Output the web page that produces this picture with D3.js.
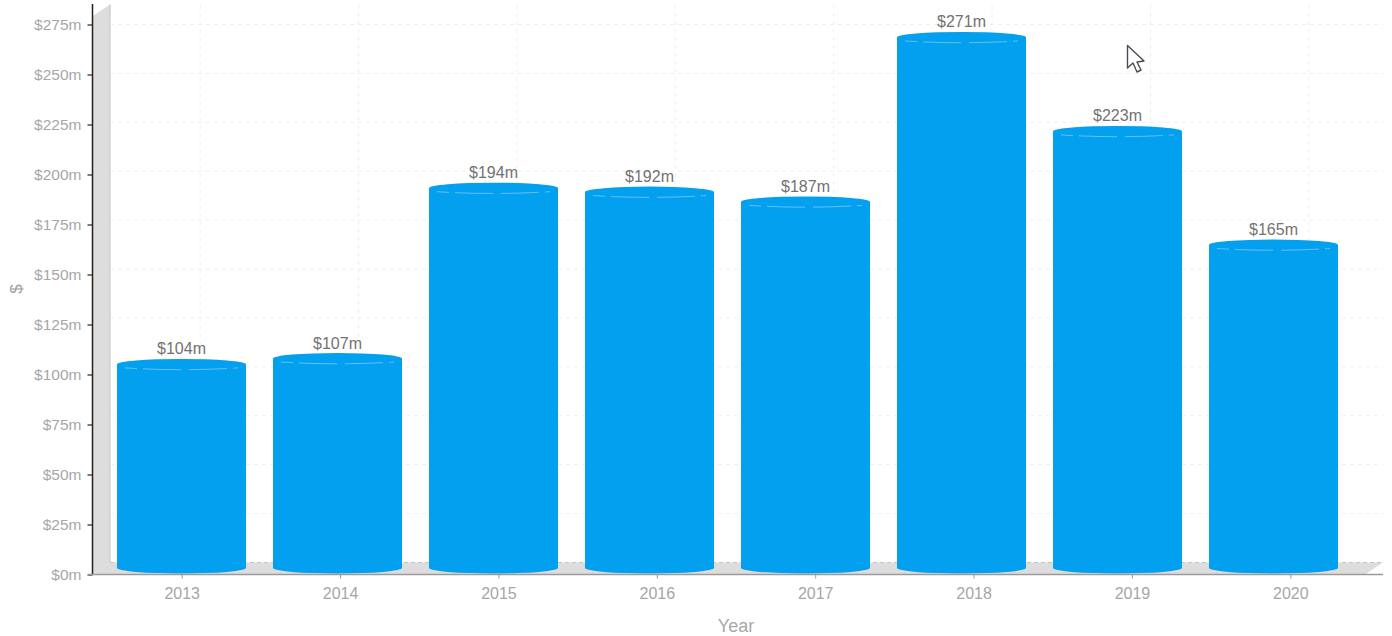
<!DOCTYPE html>
<html>
<head>
<meta charset="utf-8">
<script src="https://cdn.jsdelivr.net/npm/d3@7/dist/d3.min.js"></script>
<style>
  html, body { margin: 0; padding: 0; background: #fff; }
  svg { display: block; }
  text { font-family: "Liberation Sans", Arial, sans-serif; }
</style>
</head>
<body>
<svg id="chart" width="1392" height="636"></svg>
<script>
const years = ["2013", "2014", "2015", "2016", "2017", "2018", "2019", "2020"];
const revenue = [104, 107, 194, 192, 187, 271, 223, 165];
const valueTicks = [0, 25, 50, 75, 100, 125, 150, 175, 200, 225, 250, 275];

const svg = d3.select("#chart");
const money = v => `$${v}m`;

// Three parallel value scales: front axis, bar mid-plane, back wall.
const yFront = d3.scaleLinear().domain([0, 275]).range([574.5, 24.5]);
const yBar = d3.scaleLinear().domain([0, 275]).range([568, 29.6]);
const yBack = d3.scaleLinear().domain([0, 275]).range([562.5, 24.5]);

// Category positions: axis labels on the front edge, bars slightly inset.
const xFront = d3.scaleBand().domain(years).range([103, 1370]).padding(0);
const xBar = d3.scaleBand().domain(years).range([103.5, 1351.5]).paddingInner(27 / 156).paddingOuter(13.5 / 156);
const depthX = 18, depthY = 12;

// Back wall and floor of the 3D box
const box = svg.append("g");
box.append("path")
  .attr("d", d3.line()([[93, 16], [110, 4.5], [110, 562.5], [93, 574.5]]))
  .attr("fill", "#dddddd");
box.append("path")
  .attr("d", d3.line()([[93, 574.5], [110, 562.5], [1383, 562.5], [1365, 574.5]]))
  .attr("fill", "#dddddd");
box.append("line")
  .attr("x1", 110).attr("x2", 110).attr("y1", 4.5).attr("y2", 562.5)
  .attr("stroke", "#c9c9c9").attr("stroke-width", 1.2);
box.append("line")
  .attr("x1", 110).attr("x2", 1383).attr("y1", 562.5).attr("y2", 562.5)
  .attr("stroke", "#c4c4c4").attr("stroke-dasharray", "4 3");

// Dashed grid on the back plane
const grid = svg.append("g")
  .attr("fill", "none").attr("stroke", "#efefef").attr("stroke-width", 1).attr("stroke-dasharray", "4 4");
grid.selectAll("line.h").data(valueTicks.slice(1)).join("line")
  .attr("class", "h")
  .attr("x1", 110).attr("x2", 1383)
  .attr("y1", d => yBack(d)).attr("y2", d => yBack(d));
grid.selectAll("line.v").data(years).join("line")
  .attr("class", "v")
  .attr("x1", d => xFront(d) + xFront.bandwidth() / 2 + depthX)
  .attr("x2", d => xFront(d) + xFront.bandwidth() / 2 + depthX)
  .attr("y1", 5).attr("y2", 562);

// Cylinders: body with elliptical base and top cap
const ry = 5.5;
const bars = svg.append("g").selectAll("g").data(years.map((y, i) => ({ y, v: revenue[i] }))).join("g");
bars.append("path")
  .attr("fill", "#03a0ef")
  .attr("d", d => {
    const x0 = xBar(d.y), w = xBar.bandwidth(), rx = w / 2, top = yBar(d.v), base = yBar(0);
    return `M${x0},${top}A${rx},${ry} 0 0 1 ${x0 + w},${top}L${x0 + w},${base}A${rx},${ry} 0 0 1 ${x0},${base}Z`;
  });
// Faint dashed rim along the front of the top cap
bars.append("path")
  .attr("fill", "none").attr("stroke", "#62c0f4").attr("stroke-width", 1)
  .attr("stroke-dasharray", "12 6 38 8 38 6 12")
  .attr("d", d => {
    const x0 = xBar(d.y), w = xBar.bandwidth(), top = yBar(d.v) + ry - 0.2;
    return `M${x0 + 8},${top - 1.8}Q${x0 + w / 2},${top + 1.8} ${x0 + w - 8},${top - 1.8}`;
  });
bars.append("text")
  .attr("x", d => xBar(d.y) + xBar.bandwidth() / 2)
  .attr("y", d => yBar(d.v) - 10)
  .attr("text-anchor", "middle")
  .attr("font-size", 16)
  .attr("fill", "#727272")
  .text(d => money(d.v));

// Value axis
const yAxis = svg.append("g").attr("transform", "translate(92.5,0)")
  .call(d3.axisLeft(yFront).tickValues(valueTicks).tickFormat(money).tickSize(5).tickSizeOuter(0));
yAxis.attr("font-family", null);
yAxis.select(".domain").remove();
yAxis.selectAll(".tick line").attr("stroke", "#222").attr("stroke-width", 1.2);
yAxis.selectAll(".tick text").attr("font-size", 15.5).attr("fill", "#a6a6a6").attr("x", -11);
svg.append("line")
  .attr("x1", 92.5).attr("x2", 92.5).attr("y1", 4).attr("y2", 575)
  .attr("stroke", "#222").attr("stroke-width", 1.5);

// Category axis
const xAxis = svg.append("g").attr("transform", "translate(0,574.5)")
  .call(d3.axisBottom(xFront).tickSize(4).tickSizeOuter(0));
xAxis.attr("font-family", null);
xAxis.select(".domain").remove();
xAxis.selectAll(".tick line").attr("stroke", "#999");
xAxis.selectAll(".tick text").attr("font-size", 16).attr("fill", "#a6a6a6").attr("y", 13);
svg.append("line")
  .attr("x1", 88).attr("x2", 1383).attr("y1", 574.5).attr("y2", 574.5)
  .attr("stroke", "#9a9a9a").attr("stroke-width", 1.5);

// Axis titles
svg.append("text").attr("x", 736).attr("y", 631.5).attr("text-anchor", "middle")
  .attr("font-size", 18).attr("fill", "#a8a8a8").text("Year");
svg.append("text").attr("transform", "translate(22,289) rotate(-90)").attr("text-anchor", "middle")
  .attr("font-size", 17).attr("fill", "#a0a0a0").text("$");

// Pointer overlay
svg.append("path")
  .attr("transform", "translate(1127,45)")
  .attr("d", "M0.5,0.5L0.5,23L6,18L10,27L14,25L10,17L17,16Z")
  .attr("fill", "#fff").attr("stroke", "#4b4b55").attr("stroke-width", 1.4).attr("stroke-linejoin", "round");
</script>
</body>
</html>
